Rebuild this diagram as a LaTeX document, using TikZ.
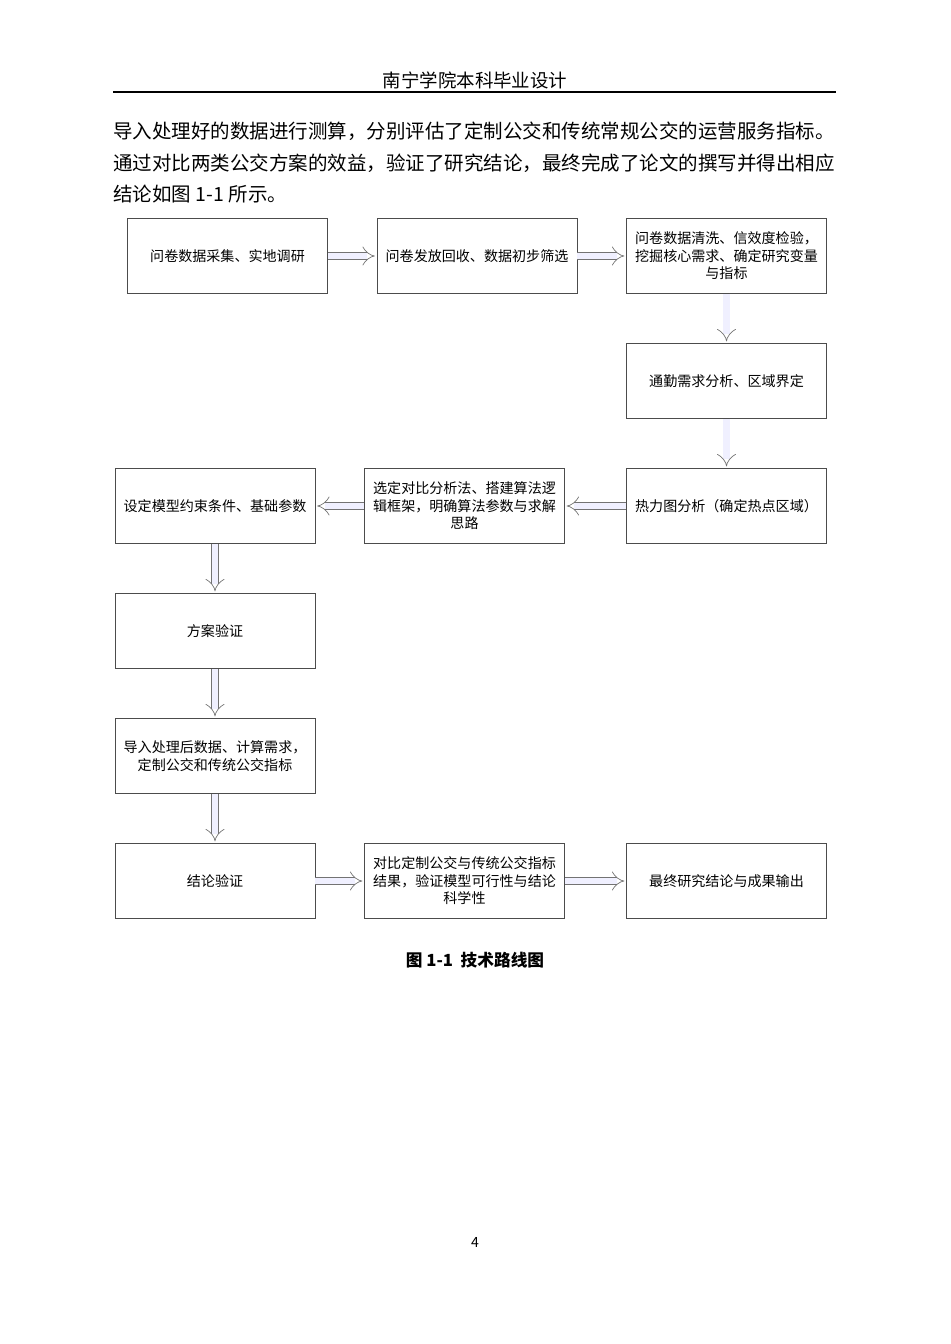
\documentclass[tikz,border=0pt]{standalone}
\usepackage{fontspec}
\newfontfamily\cjk{Noto Sans CJK SC}
\usetikzlibrary{arrows.meta,positioning}
\begin{document}
\begin{tikzpicture}[x=0.02cm,y=-0.02cm,
    step node/.style={draw=black!70,line width=0.5pt,minimum width=4cm,minimum height=1.5cm,
      text width=3.7cm,align=center,font=\cjk\fontsize{8}{10}\selectfont,inner sep=2pt},
    flow/.style={draw=black!55,line width=0.4pt,double=blue!6,double distance=3.5pt,
      -{Implies[length=5pt]},shorten >=1pt,shorten <=0pt},
    page text/.style={font=\cjk\fontsize{11.1}{14}\selectfont,anchor=west,inner sep=0pt}]
  \useasboundingbox (0,0) rectangle (950,1344);
  % header
  \node[font=\cjk\fontsize{10.5}{12}\selectfont] (head) at (475,80) {南宁学院本科毕业设计};
  \coordinate (hl) at (113,92);
  \coordinate (hr) at (836,92);
  \draw[line width=0.6pt] (hl) -- (hr);
  % paragraph
  \node[page text] (p1) at (113,131) {导入处理好的数据进行测算，分别评估了定制公交和传统常规公交的运营服务指标。};
  \node[page text] (p2) at (113,163) {通过对比两类公交方案的效益，验证了研究结论，最终完成了论文的撰写并得出相应};
  \node[page text] (p3) at (113,194) {结论如图 1-1 所示。};
  % flow chart
  \node[step node] (a) at (227.5,256) {问卷数据采集、实地调研};
  \node[step node] (b) at (477,256) {问卷发放回收、数据初步筛选};
  \node[step node] (c) at (726.5,256) {问卷数据清洗、信效度检验，\\挖掘核心需求、确定研究变量\\与指标};
  \node[step node] (d) at (726.5,381) {通勤需求分析、区域界定};
  \node[step node] (e) at (726.5,506) {热力图分析（确定热点区域）};
  \node[step node] (f) at (464.5,506) {选定对比分析法、搭建算法逻\\辑框架，明确算法参数与求解\\思路};
  \node[step node] (g) at (215,506) {设定模型约束条件、基础参数};
  \node[step node] (h) at (215,631) {方案验证};
  \node[step node] (i) at (215,756) {导入处理后数据、计算需求，\\定制公交和传统公交指标};
  \node[step node] (j) at (215,881) {结论验证};
  \node[step node] (k) at (464.5,881) {对比定制公交与传统公交指标\\结果，验证模型可行性与结论\\科学性};
  \node[step node] (l) at (726.5,881) {最终研究结论与成果输出};
  \draw[flow] (a) -- (b);
  \draw[flow] (b) -- (c);
  \draw[flow] (c) -- (d);
  \draw[flow] (d) -- (e);
  \draw[flow] (e) -- (f);
  \draw[flow] (f) -- (g);
  \draw[flow] (g) -- (h);
  \draw[flow] (h) -- (i);
  \draw[flow] (i) -- (j);
  \draw[flow] (j) -- (k);
  \draw[flow] (k) -- (l);
  % caption and page number
  \node[font=\cjk\bfseries\fontsize{9.5}{11}\selectfont] (cap) at (475,960) {图 1-1\ \ 技术路线图};
  \node[font=\cjk\fontsize{8}{10}\selectfont] (num) at (475,1242) {4};
\end{tikzpicture}
\end{document}
